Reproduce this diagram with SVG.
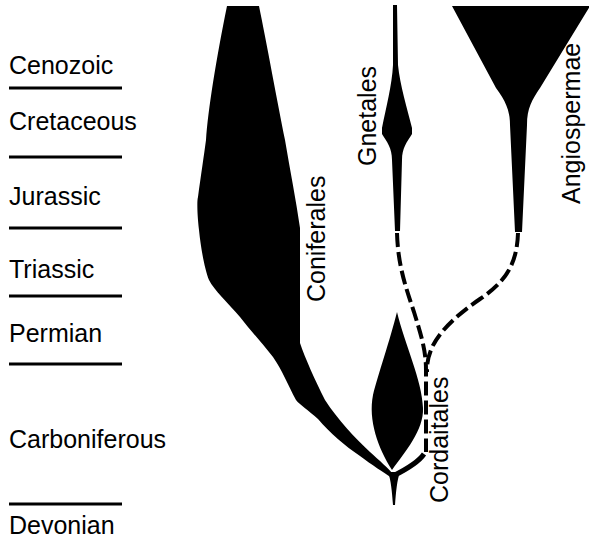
<svg xmlns="http://www.w3.org/2000/svg" width="589" height="543" viewBox="0 0 589 543">
<style>
.lbl{font-family:"Liberation Sans",Arial,sans-serif;font-size:25px;fill:#000}
.era{stroke:#000;stroke-width:3}
.shape{fill:#000;stroke:none}
.dash{fill:none;stroke:#000;stroke-width:4;stroke-dasharray:14 5}
</style>
<rect width="589" height="543" fill="#fff"/>
<g id="timescale">
<text class="lbl" x="9" y="74">Cenozoic</text>
<line class="era" x1="9" y1="88" x2="122" y2="88"/>
<text class="lbl" x="9" y="130">Cretaceous</text>
<line class="era" x1="9" y1="157" x2="122" y2="157"/>
<text class="lbl" x="9" y="205">Jurassic</text>
<line class="era" x1="9" y1="228" x2="122" y2="228"/>
<text class="lbl" x="9" y="278">Triassic</text>
<line class="era" x1="9" y1="296" x2="122" y2="296"/>
<text class="lbl" x="9" y="342">Permian</text>
<line class="era" x1="9" y1="364" x2="122" y2="364"/>
<text class="lbl" x="9" y="448">Carboniferous</text>
<line class="era" x1="9" y1="504" x2="122" y2="504"/>
<text class="lbl" x="9" y="534">Devonian</text>
</g>
<g id="coniferales">
<path class="shape" d="M227,6 L259,6 C266,40 278,105 285,140 C290,170 296,200 300,228 L300,343 C305,358 315,380 325,400 C338,420 355,438 370,452 C380,461 388,468 393,474 L392,478 C383,472 372,465 360,456 C345,446 330,433 318,419 C308,410 300,405 296,400 C288,385 282,370 273,357 C262,343 250,330 240,317 C228,303 214,290 209,280 C205,270 201,250 199,230 C197,212 197,200 198,197 C201,175 204,155 206,140 C208,110 216,60 227,6 Z"/>
<text class="lbl" transform="translate(325,302) rotate(-90)">Coniferales</text>
</g>
<g id="gnetales">
<path class="shape" d="M393,5 L397,5 L398,65 C400,85 407,108 412,128 L412,134 C407,142 402,148 402,160 L400,231 L395,231 L392,160 C392,148 387,142 382,134 L382,128 C386,108 392,85 393,65 Z"/>
<text class="lbl" transform="translate(376,166) rotate(-90)">Gnetales</text>
</g>
<g id="angiospermae">
<path class="shape" d="M452,6 L590,6 L540,88 C532,100 527,108 527,125 L522,232 L515,232 L510,125 C510,110 505,100 496,88 Z"/>
<text class="lbl" transform="translate(580,204) rotate(-90)">Angiospermae</text>
</g>
<g id="cordaitales">
<path class="shape" d="M397,312 C390,340 378,375 373,395 C368,420 378,448 392,470 C405,452 424,430 423,408 C422,380 405,345 397,312 Z"/>
<path class="shape" d="M388,472 C391,480 392,492 393,505 L395,505 C396,492 397,480 400,472 Z"/>
<path d="M393,476 C405,470 418,463 424,454" fill="none" stroke="#000" stroke-width="5"/>
<text class="lbl" transform="translate(448,503) rotate(-90)">Cordaitales</text>
</g>
<g id="connectors">
<path class="dash" d="M397,233 C398,265 405,285 414,312 C421,335 426,350 426,370 L426,452"/>
<path class="dash" d="M518,233 C517,265 505,282 480,299 C455,316 437,334 431,350 C427,360 427,366 427,372"/>
</g>
</svg>
